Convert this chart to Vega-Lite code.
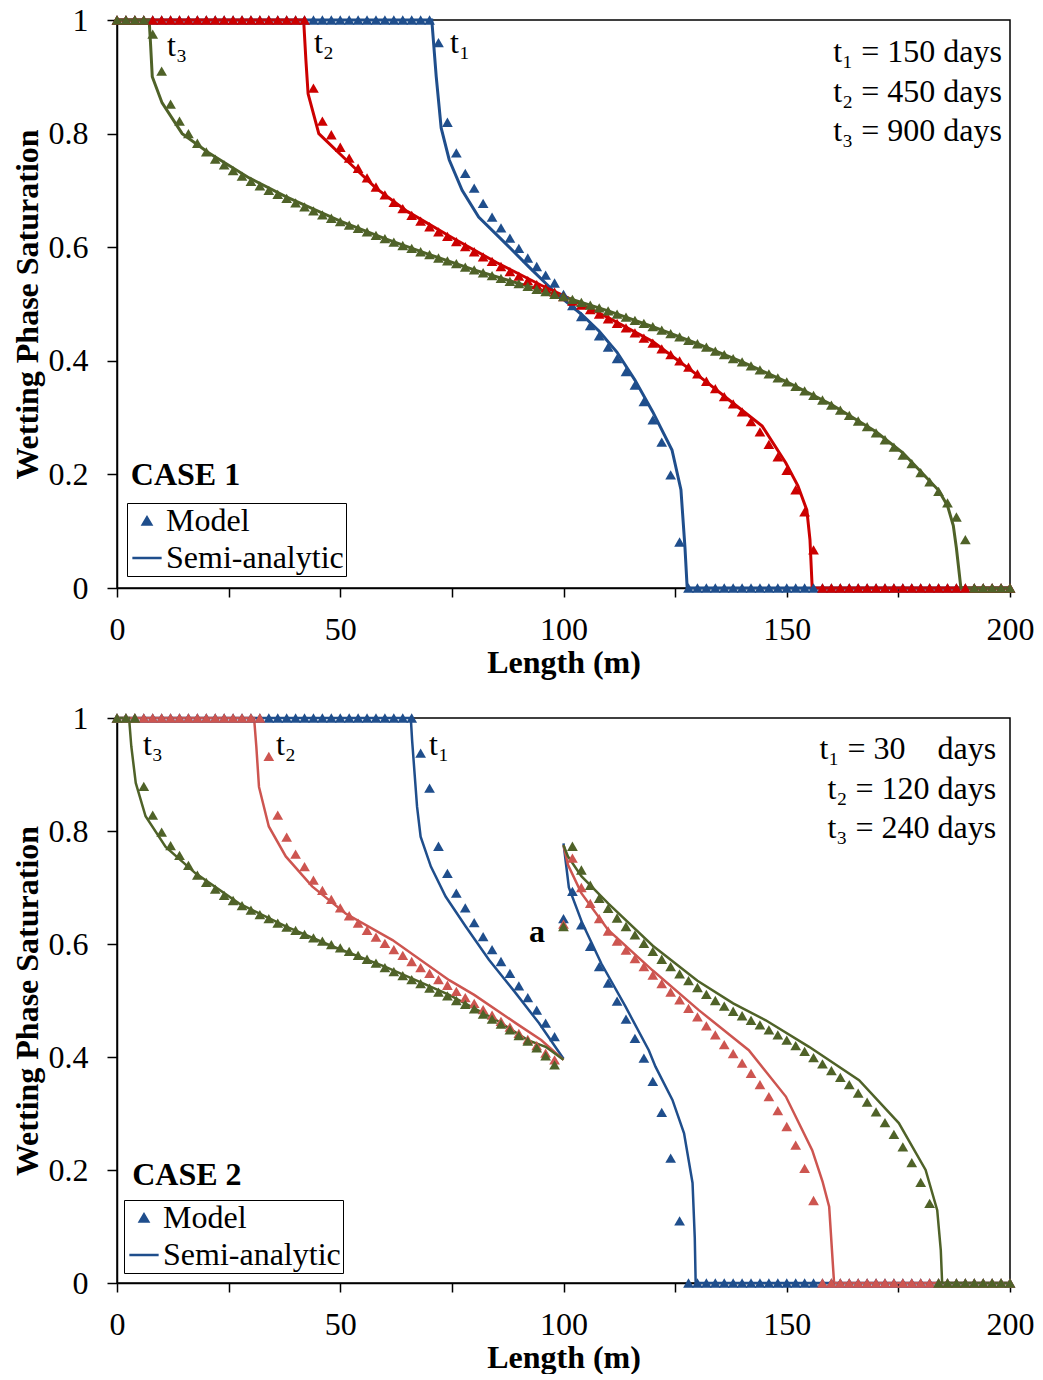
{
"$schema": "https://vega.github.io/schema/vega-lite/v6.json",
"background": "white",
"padding": {"left": 10, "top": 3, "right": 0, "bottom": 0},
"spacing": 22,
"datasets": {
"line1": [
{"t":"t1","x":0,"s":1},{"t":"t1","x":70.5,"s":1},{"t":"t1","x":71.5,"s":0.9},{"t":"t1","x":72.6,"s":0.81},{"t":"t1","x":74.4,"s":0.754},{"t":"t1","x":77.3,"s":0.7},{"t":"t1","x":81,"s":0.653},{"t":"t1","x":86.2,"s":0.613},{"t":"t1","x":92.3,"s":0.565},{"t":"t1","x":98.3,"s":0.519},{"t":"t1","x":104,"s":0.482},{"t":"t1","x":108,"s":0.452},{"t":"t1","x":112,"s":0.415},{"t":"t1","x":116,"s":0.366},{"t":"t1","x":120,"s":0.31},{"t":"t1","x":124.3,"s":0.243},{"t":"t1","x":126.3,"s":0.173},{"t":"t1","x":127.2,"s":0.072},{"t":"t1","x":127.7,"s":0},{"t":"t1","x":200,"s":0},
{"t":"t2","x":0,"s":1},{"t":"t2","x":41.8,"s":1},{"t":"t2","x":42.3,"s":0.93},{"t":"t2","x":42.8,"s":0.87},{"t":"t2","x":45.2,"s":0.8},{"t":"t2","x":51.3,"s":0.754},{"t":"t2","x":58,"s":0.704},{"t":"t2","x":65,"s":0.663},{"t":"t2","x":75,"s":0.617},{"t":"t2","x":85,"s":0.573},{"t":"t2","x":95,"s":0.533},{"t":"t2","x":100,"s":0.515},{"t":"t2","x":110,"s":0.476},{"t":"t2","x":120,"s":0.434},{"t":"t2","x":131.5,"s":0.366},{"t":"t2","x":140,"s":0.313},{"t":"t2","x":144.5,"s":0.285},{"t":"t2","x":149.8,"s":0.22},{"t":"t2","x":152.5,"s":0.18},{"t":"t2","x":154.5,"s":0.137},{"t":"t2","x":155.2,"s":0.085},{"t":"t2","x":155.7,"s":0},{"t":"t2","x":200,"s":0},
{"t":"t3","x":0,"s":1},{"t":"t3","x":7.2,"s":1},{"t":"t3","x":7.5,"s":0.96},{"t":"t3","x":7.9,"s":0.9},{"t":"t3","x":10.1,"s":0.854},{"t":"t3","x":14.6,"s":0.8},{"t":"t3","x":20.6,"s":0.766},{"t":"t3","x":29.6,"s":0.722},{"t":"t3","x":37.8,"s":0.689},{"t":"t3","x":50,"s":0.646},{"t":"t3","x":60,"s":0.615},{"t":"t3","x":70,"s":0.587},{"t":"t3","x":80,"s":0.56},{"t":"t3","x":90,"s":0.536},{"t":"t3","x":100,"s":0.513},{"t":"t3","x":110,"s":0.488},{"t":"t3","x":120,"s":0.46},{"t":"t3","x":130,"s":0.43},{"t":"t3","x":140,"s":0.398},{"t":"t3","x":150,"s":0.363},{"t":"t3","x":160,"s":0.323},{"t":"t3","x":170,"s":0.275},{"t":"t3","x":176,"s":0.238},{"t":"t3","x":180,"s":0.205},{"t":"t3","x":184,"s":0.172},{"t":"t3","x":186,"s":0.145},{"t":"t3","x":187.3,"s":0.11},{"t":"t3","x":188,"s":0.07},{"t":"t3","x":189,"s":0},{"t":"t3","x":200,"s":0}
],
"model1": [
{"t":"t1","x":0,"s":1},{"t":"t1","x":2,"s":1},{"t":"t1","x":4,"s":1},{"t":"t1","x":6,"s":1},{"t":"t1","x":8,"s":1},{"t":"t1","x":10,"s":1},{"t":"t1","x":12,"s":1},{"t":"t1","x":14,"s":1},{"t":"t1","x":16,"s":1},{"t":"t1","x":18,"s":1},{"t":"t1","x":20,"s":1},{"t":"t1","x":22,"s":1},{"t":"t1","x":24,"s":1},{"t":"t1","x":26,"s":1},{"t":"t1","x":28,"s":1},{"t":"t1","x":30,"s":1},{"t":"t1","x":32,"s":1},{"t":"t1","x":34,"s":1},{"t":"t1","x":36,"s":1},{"t":"t1","x":38,"s":1},{"t":"t1","x":40,"s":1},{"t":"t1","x":42,"s":1},{"t":"t1","x":44,"s":1},{"t":"t1","x":46,"s":1},{"t":"t1","x":48,"s":1},{"t":"t1","x":50,"s":1},{"t":"t1","x":52,"s":1},{"t":"t1","x":54,"s":1},{"t":"t1","x":56,"s":1},{"t":"t1","x":58,"s":1},{"t":"t1","x":60,"s":1},{"t":"t1","x":62,"s":1},{"t":"t1","x":64,"s":1},{"t":"t1","x":66,"s":1},{"t":"t1","x":68,"s":1},{"t":"t1","x":70,"s":1},
{"t":"t1","x":72,"s":0.96},{"t":"t1","x":74,"s":0.82},{"t":"t1","x":76,"s":0.766},{"t":"t1","x":78,"s":0.73},{"t":"t1","x":80,"s":0.704},{"t":"t1","x":82,"s":0.677},{"t":"t1","x":84,"s":0.653},{"t":"t1","x":86,"s":0.634},{"t":"t1","x":88,"s":0.616},{"t":"t1","x":90,"s":0.598},{"t":"t1","x":92,"s":0.581},{"t":"t1","x":94,"s":0.566},{"t":"t1","x":96,"s":0.551},{"t":"t1","x":98,"s":0.537},{"t":"t1","x":100,"s":0.517},{"t":"t1","x":102,"s":0.497},{"t":"t1","x":104,"s":0.478},{"t":"t1","x":106,"s":0.462},{"t":"t1","x":108,"s":0.444},{"t":"t1","x":110,"s":0.424},{"t":"t1","x":112,"s":0.404},{"t":"t1","x":114,"s":0.381},{"t":"t1","x":116,"s":0.357},{"t":"t1","x":118,"s":0.328},{"t":"t1","x":120,"s":0.296},{"t":"t1","x":122,"s":0.257},{"t":"t1","x":124,"s":0.199},{"t":"t1","x":126,"s":0.081},
{"t":"t1","x":128,"s":0},{"t":"t1","x":130,"s":0},{"t":"t1","x":132,"s":0},{"t":"t1","x":134,"s":0},{"t":"t1","x":136,"s":0},{"t":"t1","x":138,"s":0},{"t":"t1","x":140,"s":0},{"t":"t1","x":142,"s":0},{"t":"t1","x":144,"s":0},{"t":"t1","x":146,"s":0},{"t":"t1","x":148,"s":0},{"t":"t1","x":150,"s":0},{"t":"t1","x":152,"s":0},{"t":"t1","x":154,"s":0},{"t":"t1","x":156,"s":0},{"t":"t1","x":158,"s":0},{"t":"t1","x":160,"s":0},{"t":"t1","x":162,"s":0},{"t":"t1","x":164,"s":0},{"t":"t1","x":166,"s":0},{"t":"t1","x":168,"s":0},{"t":"t1","x":170,"s":0},{"t":"t1","x":172,"s":0},{"t":"t1","x":174,"s":0},{"t":"t1","x":176,"s":0},{"t":"t1","x":178,"s":0},{"t":"t1","x":180,"s":0},{"t":"t1","x":182,"s":0},{"t":"t1","x":184,"s":0},{"t":"t1","x":186,"s":0},{"t":"t1","x":188,"s":0},{"t":"t1","x":190,"s":0},{"t":"t1","x":192,"s":0},{"t":"t1","x":194,"s":0},{"t":"t1","x":196,"s":0},{"t":"t1","x":198,"s":0},{"t":"t1","x":200,"s":0},
{"t":"t2","x":0,"s":1},{"t":"t2","x":2,"s":1},{"t":"t2","x":4,"s":1},{"t":"t2","x":6,"s":1},{"t":"t2","x":8,"s":1},{"t":"t2","x":10,"s":1},{"t":"t2","x":12,"s":1},{"t":"t2","x":14,"s":1},{"t":"t2","x":16,"s":1},{"t":"t2","x":18,"s":1},{"t":"t2","x":20,"s":1},{"t":"t2","x":22,"s":1},{"t":"t2","x":24,"s":1},{"t":"t2","x":26,"s":1},{"t":"t2","x":28,"s":1},{"t":"t2","x":30,"s":1},{"t":"t2","x":32,"s":1},{"t":"t2","x":34,"s":1},{"t":"t2","x":36,"s":1},{"t":"t2","x":38,"s":1},{"t":"t2","x":40,"s":1},{"t":"t2","x":42,"s":1},
{"t":"t2","x":44,"s":0.88},{"t":"t2","x":46,"s":0.822},{"t":"t2","x":48,"s":0.798},{"t":"t2","x":50,"s":0.776},{"t":"t2","x":52,"s":0.757},{"t":"t2","x":54,"s":0.739},{"t":"t2","x":56,"s":0.722},{"t":"t2","x":58,"s":0.706},{"t":"t2","x":60,"s":0.692},{"t":"t2","x":62,"s":0.679},{"t":"t2","x":64,"s":0.668},{"t":"t2","x":66,"s":0.656},{"t":"t2","x":68,"s":0.646},{"t":"t2","x":70,"s":0.636},{"t":"t2","x":72,"s":0.627},{"t":"t2","x":74,"s":0.619},{"t":"t2","x":76,"s":0.61},{"t":"t2","x":78,"s":0.601},{"t":"t2","x":80,"s":0.592},{"t":"t2","x":82,"s":0.583},{"t":"t2","x":84,"s":0.575},{"t":"t2","x":86,"s":0.566},{"t":"t2","x":88,"s":0.557},{"t":"t2","x":90,"s":0.549},{"t":"t2","x":92,"s":0.541},{"t":"t2","x":94,"s":0.534},{"t":"t2","x":96,"s":0.528},{"t":"t2","x":98,"s":0.521},{"t":"t2","x":100,"s":0.513},{"t":"t2","x":102,"s":0.505},{"t":"t2","x":104,"s":0.498},{"t":"t2","x":106,"s":0.49},{"t":"t2","x":108,"s":0.482},{"t":"t2","x":110,"s":0.474},{"t":"t2","x":112,"s":0.466},{"t":"t2","x":114,"s":0.458},{"t":"t2","x":116,"s":0.449},{"t":"t2","x":118,"s":0.44},{"t":"t2","x":120,"s":0.431},{"t":"t2","x":122,"s":0.421},{"t":"t2","x":124,"s":0.411},{"t":"t2","x":126,"s":0.4},{"t":"t2","x":128,"s":0.389},{"t":"t2","x":130,"s":0.377},{"t":"t2","x":132,"s":0.364},{"t":"t2","x":134,"s":0.351},{"t":"t2","x":136,"s":0.337},{"t":"t2","x":138,"s":0.324},{"t":"t2","x":140,"s":0.31},{"t":"t2","x":142,"s":0.293},{"t":"t2","x":144,"s":0.275},{"t":"t2","x":146,"s":0.253},{"t":"t2","x":148,"s":0.231},{"t":"t2","x":150,"s":0.207},{"t":"t2","x":152,"s":0.173},{"t":"t2","x":154,"s":0.134},{"t":"t2","x":156,"s":0.067},
{"t":"t2","x":158,"s":0},{"t":"t2","x":160,"s":0},{"t":"t2","x":162,"s":0},{"t":"t2","x":164,"s":0},{"t":"t2","x":166,"s":0},{"t":"t2","x":168,"s":0},{"t":"t2","x":170,"s":0},{"t":"t2","x":172,"s":0},{"t":"t2","x":174,"s":0},{"t":"t2","x":176,"s":0},{"t":"t2","x":178,"s":0},{"t":"t2","x":180,"s":0},{"t":"t2","x":182,"s":0},{"t":"t2","x":184,"s":0},{"t":"t2","x":186,"s":0},{"t":"t2","x":188,"s":0},{"t":"t2","x":190,"s":0},{"t":"t2","x":192,"s":0},{"t":"t2","x":194,"s":0},{"t":"t2","x":196,"s":0},{"t":"t2","x":198,"s":0},{"t":"t2","x":200,"s":0},
{"t":"t3","x":0,"s":1},{"t":"t3","x":2,"s":1},{"t":"t3","x":4,"s":1},{"t":"t3","x":6,"s":1},
{"t":"t3","x":8,"s":0.975},{"t":"t3","x":10,"s":0.91},{"t":"t3","x":12,"s":0.852},{"t":"t3","x":14,"s":0.822},{"t":"t3","x":16,"s":0.8},{"t":"t3","x":18,"s":0.783},{"t":"t3","x":20,"s":0.768},{"t":"t3","x":22,"s":0.755},{"t":"t3","x":24,"s":0.745},{"t":"t3","x":26,"s":0.735},{"t":"t3","x":28,"s":0.725},{"t":"t3","x":30,"s":0.716},{"t":"t3","x":32,"s":0.708},{"t":"t3","x":34,"s":0.7},{"t":"t3","x":36,"s":0.693},{"t":"t3","x":38,"s":0.686},{"t":"t3","x":40,"s":0.678},{"t":"t3","x":42,"s":0.671},{"t":"t3","x":44,"s":0.664},{"t":"t3","x":46,"s":0.657},{"t":"t3","x":48,"s":0.651},{"t":"t3","x":50,"s":0.645},{"t":"t3","x":52,"s":0.639},{"t":"t3","x":54,"s":0.633},{"t":"t3","x":56,"s":0.627},{"t":"t3","x":58,"s":0.621},{"t":"t3","x":60,"s":0.615},{"t":"t3","x":62,"s":0.609},{"t":"t3","x":64,"s":0.603},{"t":"t3","x":66,"s":0.598},{"t":"t3","x":68,"s":0.592},{"t":"t3","x":70,"s":0.587},{"t":"t3","x":72,"s":0.581},{"t":"t3","x":74,"s":0.576},{"t":"t3","x":76,"s":0.571},{"t":"t3","x":78,"s":0.565},{"t":"t3","x":80,"s":0.56},{"t":"t3","x":82,"s":0.555},{"t":"t3","x":84,"s":0.55},{"t":"t3","x":86,"s":0.545},{"t":"t3","x":88,"s":0.54},{"t":"t3","x":90,"s":0.536},{"t":"t3","x":92,"s":0.531},{"t":"t3","x":94,"s":0.526},{"t":"t3","x":96,"s":0.522},{"t":"t3","x":98,"s":0.517},{"t":"t3","x":100,"s":0.513},{"t":"t3","x":102,"s":0.508},{"t":"t3","x":104,"s":0.503},{"t":"t3","x":106,"s":0.498},{"t":"t3","x":108,"s":0.493},{"t":"t3","x":110,"s":0.488},{"t":"t3","x":112,"s":0.482},{"t":"t3","x":114,"s":0.477},{"t":"t3","x":116,"s":0.471},{"t":"t3","x":118,"s":0.466},{"t":"t3","x":120,"s":0.46},{"t":"t3","x":122,"s":0.454},{"t":"t3","x":124,"s":0.448},{"t":"t3","x":126,"s":0.442},{"t":"t3","x":128,"s":0.436},{"t":"t3","x":130,"s":0.43},{"t":"t3","x":132,"s":0.424},{"t":"t3","x":134,"s":0.417},{"t":"t3","x":136,"s":0.411},{"t":"t3","x":138,"s":0.404},{"t":"t3","x":140,"s":0.398},{"t":"t3","x":142,"s":0.391},{"t":"t3","x":144,"s":0.384},{"t":"t3","x":146,"s":0.377},{"t":"t3","x":148,"s":0.37},{"t":"t3","x":150,"s":0.363},{"t":"t3","x":152,"s":0.355},{"t":"t3","x":154,"s":0.347},{"t":"t3","x":156,"s":0.339},{"t":"t3","x":158,"s":0.331},{"t":"t3","x":160,"s":0.322},{"t":"t3","x":162,"s":0.313},{"t":"t3","x":164,"s":0.304},{"t":"t3","x":166,"s":0.294},{"t":"t3","x":168,"s":0.284},{"t":"t3","x":170,"s":0.273},{"t":"t3","x":172,"s":0.261},{"t":"t3","x":174,"s":0.248},{"t":"t3","x":176,"s":0.234},{"t":"t3","x":178,"s":0.219},{"t":"t3","x":180,"s":0.203},{"t":"t3","x":182,"s":0.187},{"t":"t3","x":184,"s":0.17},{"t":"t3","x":186,"s":0.15},{"t":"t3","x":188,"s":0.125},{"t":"t3","x":190,"s":0.085},
{"t":"t3","x":192,"s":0},{"t":"t3","x":194,"s":0},{"t":"t3","x":196,"s":0},{"t":"t3","x":198,"s":0},{"t":"t3","x":200,"s":0}
],
"line2": [
{"t":"t1","p":"L","x":0,"s":1},{"t":"t1","p":"L","x":65.8,"s":1},{"t":"t1","p":"L","x":66.1,"s":0.96},{"t":"t1","p":"L","x":67.2,"s":0.843},{"t":"t1","p":"L","x":68,"s":0.79},{"t":"t1","p":"L","x":70.3,"s":0.737},{"t":"t1","p":"L","x":73.6,"s":0.684},{"t":"t1","p":"L","x":78.1,"s":0.631},{"t":"t1","p":"L","x":83.3,"s":0.572},{"t":"t1","p":"L","x":89.3,"s":0.513},{"t":"t1","p":"L","x":94.5,"s":0.46},{"t":"t1","p":"L","x":100,"s":0.397},
{"t":"t1","p":"R","x":100,"s":0.778},{"t":"t1","p":"R","x":101.2,"s":0.7},{"t":"t1","p":"R","x":104.2,"s":0.637},{"t":"t1","p":"R","x":108.5,"s":0.565},{"t":"t1","p":"R","x":113.9,"s":0.489},{"t":"t1","p":"R","x":119.1,"s":0.412},{"t":"t1","p":"R","x":120.6,"s":0.383},{"t":"t1","p":"R","x":124.4,"s":0.324},{"t":"t1","p":"R","x":127,"s":0.265},{"t":"t1","p":"R","x":128.9,"s":0.177},{"t":"t1","p":"R","x":129.4,"s":0.08},{"t":"t1","p":"R","x":129.6,"s":0},{"t":"t1","p":"R","x":200,"s":0},
{"t":"t2","p":"L","x":0,"s":1},{"t":"t2","p":"L","x":30.7,"s":1},{"t":"t2","p":"L","x":31.2,"s":0.95},{"t":"t2","p":"L","x":31.8,"s":0.878},{"t":"t2","p":"L","x":34,"s":0.808},{"t":"t2","p":"L","x":37.8,"s":0.755},{"t":"t2","p":"L","x":43.7,"s":0.702},{"t":"t2","p":"L","x":51.2,"s":0.654},{"t":"t2","p":"L","x":61.7,"s":0.607},{"t":"t2","p":"L","x":74.4,"s":0.536},{"t":"t2","p":"L","x":80,"s":0.51},{"t":"t2","p":"L","x":89.3,"s":0.46},{"t":"t2","p":"L","x":95,"s":0.43},{"t":"t2","p":"L","x":100,"s":0.395},
{"t":"t2","p":"R","x":100,"s":0.775},{"t":"t2","p":"R","x":101,"s":0.74},{"t":"t2","p":"R","x":104,"s":0.69},{"t":"t2","p":"R","x":110,"s":0.625},{"t":"t2","p":"R","x":120,"s":0.553},{"t":"t2","p":"R","x":130.3,"s":0.483},{"t":"t2","p":"R","x":141.5,"s":0.412},{"t":"t2","p":"R","x":149.8,"s":0.33},{"t":"t2","p":"R","x":155.7,"s":0.235},{"t":"t2","p":"R","x":158,"s":0.18},{"t":"t2","p":"R","x":159.5,"s":0.135},{"t":"t2","p":"R","x":160.6,"s":0},{"t":"t2","p":"R","x":200,"s":0},
{"t":"t3","p":"L","x":0,"s":1},{"t":"t3","p":"L","x":2.7,"s":1},{"t":"t3","p":"L","x":3.2,"s":0.95},{"t":"t3","p":"L","x":4.2,"s":0.885},{"t":"t3","p":"L","x":6.4,"s":0.826},{"t":"t3","p":"L","x":10.9,"s":0.772},{"t":"t3","p":"L","x":17.6,"s":0.725},{"t":"t3","p":"L","x":27.3,"s":0.672},{"t":"t3","p":"L","x":37.8,"s":0.631},{"t":"t3","p":"L","x":48.2,"s":0.596},{"t":"t3","p":"L","x":60,"s":0.56},{"t":"t3","p":"L","x":74.4,"s":0.51},{"t":"t3","p":"L","x":85,"s":0.465},{"t":"t3","p":"L","x":92,"s":0.43},{"t":"t3","p":"L","x":96,"s":0.418},{"t":"t3","p":"L","x":100,"s":0.395},
{"t":"t3","p":"R","x":100,"s":0.775},{"t":"t3","p":"R","x":101,"s":0.755},{"t":"t3","p":"R","x":104,"s":0.72},{"t":"t3","p":"R","x":110,"s":0.672},{"t":"t3","p":"R","x":120,"s":0.597},{"t":"t3","p":"R","x":130,"s":0.535},{"t":"t3","p":"R","x":138,"s":0.495},{"t":"t3","p":"R","x":145.3,"s":0.465},{"t":"t3","p":"R","x":155,"s":0.418},{"t":"t3","p":"R","x":166.2,"s":0.359},{"t":"t3","p":"R","x":175.1,"s":0.283},{"t":"t3","p":"R","x":181.1,"s":0.2},{"t":"t3","p":"R","x":183.7,"s":0.129},{"t":"t3","p":"R","x":184.5,"s":0.058},{"t":"t3","p":"R","x":184.8,"s":0},{"t":"t3","p":"R","x":200,"s":0}
],
"model2": [
{"t":"t1","x":0,"s":1},{"t":"t1","x":2,"s":1},{"t":"t1","x":4,"s":1},{"t":"t1","x":6,"s":1},{"t":"t1","x":8,"s":1},{"t":"t1","x":10,"s":1},{"t":"t1","x":12,"s":1},{"t":"t1","x":14,"s":1},{"t":"t1","x":16,"s":1},{"t":"t1","x":18,"s":1},{"t":"t1","x":20,"s":1},{"t":"t1","x":22,"s":1},{"t":"t1","x":24,"s":1},{"t":"t1","x":26,"s":1},{"t":"t1","x":28,"s":1},{"t":"t1","x":30,"s":1},{"t":"t1","x":32,"s":1},{"t":"t1","x":34,"s":1},{"t":"t1","x":36,"s":1},{"t":"t1","x":38,"s":1},{"t":"t1","x":40,"s":1},{"t":"t1","x":42,"s":1},{"t":"t1","x":44,"s":1},{"t":"t1","x":46,"s":1},{"t":"t1","x":48,"s":1},{"t":"t1","x":50,"s":1},{"t":"t1","x":52,"s":1},{"t":"t1","x":54,"s":1},{"t":"t1","x":56,"s":1},{"t":"t1","x":58,"s":1},{"t":"t1","x":60,"s":1},{"t":"t1","x":62,"s":1},{"t":"t1","x":64,"s":1},{"t":"t1","x":66,"s":1},
{"t":"t1","x":68,"s":0.938},{"t":"t1","x":70,"s":0.876},{"t":"t1","x":72,"s":0.773},{"t":"t1","x":74,"s":0.725},{"t":"t1","x":76,"s":0.69},{"t":"t1","x":78,"s":0.664},{"t":"t1","x":80,"s":0.638},{"t":"t1","x":82,"s":0.613},{"t":"t1","x":84,"s":0.59},{"t":"t1","x":86,"s":0.569},{"t":"t1","x":88,"s":0.548},{"t":"t1","x":90,"s":0.526},{"t":"t1","x":92,"s":0.505},{"t":"t1","x":94,"s":0.483},{"t":"t1","x":96,"s":0.46},{"t":"t1","x":98,"s":0.436},{"t":"t1","x":100,"s":0.645},{"t":"t1","x":102,"s":0.693},{"t":"t1","x":104,"s":0.634},{"t":"t1","x":106,"s":0.596},{"t":"t1","x":108,"s":0.56},{"t":"t1","x":110,"s":0.531},{"t":"t1","x":112,"s":0.499},{"t":"t1","x":114,"s":0.467},{"t":"t1","x":116,"s":0.433},{"t":"t1","x":118,"s":0.398},{"t":"t1","x":120,"s":0.357},{"t":"t1","x":122,"s":0.302},{"t":"t1","x":124,"s":0.221},{"t":"t1","x":126,"s":0.11},
{"t":"t1","x":128,"s":0},{"t":"t1","x":130,"s":0},{"t":"t1","x":132,"s":0},{"t":"t1","x":134,"s":0},{"t":"t1","x":136,"s":0},{"t":"t1","x":138,"s":0},{"t":"t1","x":140,"s":0},{"t":"t1","x":142,"s":0},{"t":"t1","x":144,"s":0},{"t":"t1","x":146,"s":0},{"t":"t1","x":148,"s":0},{"t":"t1","x":150,"s":0},{"t":"t1","x":152,"s":0},{"t":"t1","x":154,"s":0},{"t":"t1","x":156,"s":0},{"t":"t1","x":158,"s":0},{"t":"t1","x":160,"s":0},{"t":"t1","x":162,"s":0},{"t":"t1","x":164,"s":0},{"t":"t1","x":166,"s":0},{"t":"t1","x":168,"s":0},{"t":"t1","x":170,"s":0},{"t":"t1","x":172,"s":0},{"t":"t1","x":174,"s":0},{"t":"t1","x":176,"s":0},{"t":"t1","x":178,"s":0},{"t":"t1","x":180,"s":0},{"t":"t1","x":182,"s":0},{"t":"t1","x":184,"s":0},{"t":"t1","x":186,"s":0},{"t":"t1","x":188,"s":0},{"t":"t1","x":190,"s":0},{"t":"t1","x":192,"s":0},{"t":"t1","x":194,"s":0},{"t":"t1","x":196,"s":0},{"t":"t1","x":198,"s":0},{"t":"t1","x":200,"s":0},
{"t":"t2","x":0,"s":1},{"t":"t2","x":2,"s":1},{"t":"t2","x":4,"s":1},{"t":"t2","x":6,"s":1},{"t":"t2","x":8,"s":1},{"t":"t2","x":10,"s":1},{"t":"t2","x":12,"s":1},{"t":"t2","x":14,"s":1},{"t":"t2","x":16,"s":1},{"t":"t2","x":18,"s":1},{"t":"t2","x":20,"s":1},{"t":"t2","x":22,"s":1},{"t":"t2","x":24,"s":1},{"t":"t2","x":26,"s":1},{"t":"t2","x":28,"s":1},{"t":"t2","x":30,"s":1},{"t":"t2","x":32,"s":1},
{"t":"t2","x":34,"s":0.932},{"t":"t2","x":36,"s":0.828},{"t":"t2","x":38,"s":0.789},{"t":"t2","x":40,"s":0.759},{"t":"t2","x":42,"s":0.737},{"t":"t2","x":44,"s":0.713},{"t":"t2","x":46,"s":0.695},{"t":"t2","x":48,"s":0.679},{"t":"t2","x":50,"s":0.664},{"t":"t2","x":52,"s":0.65},{"t":"t2","x":54,"s":0.637},{"t":"t2","x":56,"s":0.624},{"t":"t2","x":58,"s":0.612},{"t":"t2","x":60,"s":0.601},{"t":"t2","x":62,"s":0.59},{"t":"t2","x":64,"s":0.58},{"t":"t2","x":66,"s":0.569},{"t":"t2","x":68,"s":0.558},{"t":"t2","x":70,"s":0.548},{"t":"t2","x":72,"s":0.537},{"t":"t2","x":74,"s":0.527},{"t":"t2","x":76,"s":0.516},{"t":"t2","x":78,"s":0.505},{"t":"t2","x":80,"s":0.495},{"t":"t2","x":82,"s":0.484},{"t":"t2","x":84,"s":0.474},{"t":"t2","x":86,"s":0.463},{"t":"t2","x":88,"s":0.453},{"t":"t2","x":90,"s":0.442},{"t":"t2","x":92,"s":0.431},{"t":"t2","x":94,"s":0.42},{"t":"t2","x":96,"s":0.407},{"t":"t2","x":98,"s":0.395},{"t":"t2","x":100,"s":0.635},{"t":"t2","x":102,"s":0.752},{"t":"t2","x":104,"s":0.7},{"t":"t2","x":106,"s":0.672},{"t":"t2","x":108,"s":0.645},{"t":"t2","x":110,"s":0.623},{"t":"t2","x":112,"s":0.605},{"t":"t2","x":114,"s":0.589},{"t":"t2","x":116,"s":0.574},{"t":"t2","x":118,"s":0.56},{"t":"t2","x":120,"s":0.545},{"t":"t2","x":122,"s":0.53},{"t":"t2","x":124,"s":0.515},{"t":"t2","x":126,"s":0.501},{"t":"t2","x":128,"s":0.486},{"t":"t2","x":130,"s":0.471},{"t":"t2","x":132,"s":0.455},{"t":"t2","x":134,"s":0.439},{"t":"t2","x":136,"s":0.422},{"t":"t2","x":138,"s":0.406},{"t":"t2","x":140,"s":0.389},{"t":"t2","x":142,"s":0.371},{"t":"t2","x":144,"s":0.351},{"t":"t2","x":146,"s":0.33},{"t":"t2","x":148,"s":0.305},{"t":"t2","x":150,"s":0.277},{"t":"t2","x":152,"s":0.244},{"t":"t2","x":154,"s":0.203},{"t":"t2","x":156,"s":0.146},
{"t":"t2","x":158,"s":0},{"t":"t2","x":160,"s":0},{"t":"t2","x":162,"s":0},{"t":"t2","x":164,"s":0},{"t":"t2","x":166,"s":0},{"t":"t2","x":168,"s":0},{"t":"t2","x":170,"s":0},{"t":"t2","x":172,"s":0},{"t":"t2","x":174,"s":0},{"t":"t2","x":176,"s":0},{"t":"t2","x":178,"s":0},{"t":"t2","x":180,"s":0},{"t":"t2","x":182,"s":0},{"t":"t2","x":184,"s":0},{"t":"t2","x":186,"s":0},{"t":"t2","x":188,"s":0},{"t":"t2","x":190,"s":0},{"t":"t2","x":192,"s":0},{"t":"t2","x":194,"s":0},{"t":"t2","x":196,"s":0},{"t":"t2","x":198,"s":0},{"t":"t2","x":200,"s":0},
{"t":"t3","x":0,"s":1},{"t":"t3","x":2,"s":1},{"t":"t3","x":4,"s":1},
{"t":"t3","x":6,"s":0.879},{"t":"t3","x":8,"s":0.828},{"t":"t3","x":10,"s":0.798},{"t":"t3","x":12,"s":0.774},{"t":"t3","x":14,"s":0.757},{"t":"t3","x":16,"s":0.739},{"t":"t3","x":18,"s":0.722},{"t":"t3","x":20,"s":0.709},{"t":"t3","x":22,"s":0.697},{"t":"t3","x":24,"s":0.686},{"t":"t3","x":26,"s":0.677},{"t":"t3","x":28,"s":0.668},{"t":"t3","x":30,"s":0.66},{"t":"t3","x":32,"s":0.652},{"t":"t3","x":34,"s":0.645},{"t":"t3","x":36,"s":0.637},{"t":"t3","x":38,"s":0.63},{"t":"t3","x":40,"s":0.624},{"t":"t3","x":42,"s":0.617},{"t":"t3","x":44,"s":0.611},{"t":"t3","x":46,"s":0.605},{"t":"t3","x":48,"s":0.599},{"t":"t3","x":50,"s":0.593},{"t":"t3","x":52,"s":0.587},{"t":"t3","x":54,"s":0.58},{"t":"t3","x":56,"s":0.573},{"t":"t3","x":58,"s":0.566},{"t":"t3","x":60,"s":0.558},{"t":"t3","x":62,"s":0.551},{"t":"t3","x":64,"s":0.544},{"t":"t3","x":66,"s":0.537},{"t":"t3","x":68,"s":0.53},{"t":"t3","x":70,"s":0.522},{"t":"t3","x":72,"s":0.515},{"t":"t3","x":74,"s":0.508},{"t":"t3","x":76,"s":0.5},{"t":"t3","x":78,"s":0.493},{"t":"t3","x":80,"s":0.485},{"t":"t3","x":82,"s":0.476},{"t":"t3","x":84,"s":0.467},{"t":"t3","x":86,"s":0.458},{"t":"t3","x":88,"s":0.448},{"t":"t3","x":90,"s":0.438},{"t":"t3","x":92,"s":0.428},{"t":"t3","x":94,"s":0.416},{"t":"t3","x":96,"s":0.402},{"t":"t3","x":98,"s":0.386},{"t":"t3","x":100,"s":0.631},{"t":"t3","x":102,"s":0.773},{"t":"t3","x":104,"s":0.731},{"t":"t3","x":106,"s":0.704},{"t":"t3","x":108,"s":0.681},{"t":"t3","x":110,"s":0.663},{"t":"t3","x":112,"s":0.646},{"t":"t3","x":114,"s":0.631},{"t":"t3","x":116,"s":0.616},{"t":"t3","x":118,"s":0.601},{"t":"t3","x":120,"s":0.587},{"t":"t3","x":122,"s":0.573},{"t":"t3","x":124,"s":0.56},{"t":"t3","x":126,"s":0.547},{"t":"t3","x":128,"s":0.535},{"t":"t3","x":130,"s":0.523},{"t":"t3","x":132,"s":0.511},{"t":"t3","x":134,"s":0.5},{"t":"t3","x":136,"s":0.49},{"t":"t3","x":138,"s":0.481},{"t":"t3","x":140,"s":0.473},{"t":"t3","x":142,"s":0.465},{"t":"t3","x":144,"s":0.457},{"t":"t3","x":146,"s":0.448},{"t":"t3","x":148,"s":0.439},{"t":"t3","x":150,"s":0.43},{"t":"t3","x":152,"s":0.42},{"t":"t3","x":154,"s":0.41},{"t":"t3","x":156,"s":0.399},{"t":"t3","x":158,"s":0.388},{"t":"t3","x":160,"s":0.376},{"t":"t3","x":162,"s":0.364},{"t":"t3","x":164,"s":0.351},{"t":"t3","x":166,"s":0.336},{"t":"t3","x":168,"s":0.32},{"t":"t3","x":170,"s":0.303},{"t":"t3","x":172,"s":0.284},{"t":"t3","x":174,"s":0.263},{"t":"t3","x":176,"s":0.241},{"t":"t3","x":178,"s":0.213},{"t":"t3","x":180,"s":0.178},{"t":"t3","x":182,"s":0.141},
{"t":"t3","x":184,"s":0},{"t":"t3","x":186,"s":0},{"t":"t3","x":188,"s":0},{"t":"t3","x":190,"s":0},{"t":"t3","x":192,"s":0},{"t":"t3","x":194,"s":0},{"t":"t3","x":196,"s":0},{"t":"t3","x":198,"s":0},{"t":"t3","x":200,"s":0}
]
},
"vconcat": [
{
"width": 893, "height": 568,
"layer": [
 {"data": {"name": "line1"}, "mark": {"type": "line", "strokeWidth": 3}, "encoding": {
   "x": {"field": "x", "type": "quantitative", "scale": {"domain": [0, 200], "nice": false, "zero": false}, "axis": {"values": [0,25,50,75,100,125,150,175,200], "labelExpr": "datum.value % 50 === 0 ? datum.label : ''", "title": "Length (m)"}},
   "y": {"field": "s", "type": "quantitative", "scale": {"domain": [0, 1], "nice": false}, "axis": {"values": [0,0.2,0.4,0.6,0.8,1], "format": "~g", "title": "Wetting Phase Saturation"}},
   "color": {"field": "t", "type": "nominal", "scale": {"domain": ["t1","t2","t3"], "range": ["#1F4E8C","#CC0000","#4F6228"]}, "legend": null}}},
 {"data": {"name": "model1"}, "mark": {"type": "point", "filled": true, "size": 115, "opacity": 1}, "encoding": {
   "x": {"field": "x", "type": "quantitative", "title": "Length (m)"},
   "y": {"field": "s", "type": "quantitative", "title": "Wetting Phase Saturation"},
   "color": {"field": "t", "type": "nominal", "scale": {"domain": ["t1","t2","t3"], "range": ["#1F4E8C","#CC0000","#4F6228"]}, "legend": null},
   "shape": {"datum": "Model", "type": "nominal", "scale": {"domain": ["Model","Semi-analytic"], "range": ["triangle-up","M-3.5,0L3.5,0"]}, "legend": {"title": null, "orient": "none", "legendX": 10, "legendY": 483}}
 }},
 {"data": {"values": [{"label": "t₃"}]}, "mark": {"type": "text", "font": "Liberation Serif", "fontSize": 32, "align": "left", "baseline": "alphabetic", "color": "black"}, "encoding": {"x": {"datum": 11.2, "type": "quantitative", "title": "Length (m)"}, "y": {"datum": 0.937, "type": "quantitative", "title": "Wetting Phase Saturation"}, "text": {"field": "label", "type": "nominal"}}},
 {"data": {"values": [{"label": "t₂"}]}, "mark": {"type": "text", "font": "Liberation Serif", "fontSize": 32, "align": "left", "baseline": "alphabetic", "color": "black"}, "encoding": {"x": {"datum": 44.1, "type": "quantitative", "title": "Length (m)"}, "y": {"datum": 0.942, "type": "quantitative", "title": "Wetting Phase Saturation"}, "text": {"field": "label", "type": "nominal"}}},
 {"data": {"values": [{"label": "t₁"}]}, "mark": {"type": "text", "font": "Liberation Serif", "fontSize": 32, "align": "left", "baseline": "alphabetic", "color": "black"}, "encoding": {"x": {"datum": 74.6, "type": "quantitative", "title": "Length (m)"}, "y": {"datum": 0.942, "type": "quantitative", "title": "Wetting Phase Saturation"}, "text": {"field": "label", "type": "nominal"}}},
 {"data": {"values": [{"label": ["t₁ = 150 days", "t₂ = 450 days", "t₃ = 900 days"]}]}, "mark": {"type": "text", "font": "Liberation Serif", "fontSize": 32, "align": "right", "baseline": "alphabetic", "color": "black", "lineHeight": 39.5}, "encoding": {"x": {"datum": 198.2, "type": "quantitative", "title": "Length (m)"}, "y": {"datum": 0.926, "type": "quantitative", "title": "Wetting Phase Saturation"}, "text": {"field": "label", "type": "nominal"}}},
 {"data": {"values": [{"label": "CASE 1"}]}, "mark": {"type": "text", "font": "Liberation Serif", "fontSize": 32, "fontWeight": "bold", "align": "left", "baseline": "alphabetic", "color": "black"}, "encoding": {"x": {"datum": 3.1, "type": "quantitative", "title": "Length (m)"}, "y": {"datum": 0.181, "type": "quantitative", "title": "Wetting Phase Saturation"}, "text": {"field": "label", "type": "nominal"}}}
]
},
{
"width": 893, "height": 565,
"layer": [
 {"data": {"name": "line2"}, "mark": {"type": "line", "strokeWidth": 2.5}, "encoding": {
   "x": {"field": "x", "type": "quantitative", "scale": {"domain": [0, 200], "nice": false, "zero": false}, "axis": {"values": [0,25,50,75,100,125,150,175,200], "labelExpr": "datum.value % 50 === 0 ? datum.label : ''", "title": "Length (m)"}},
   "y": {"field": "s", "type": "quantitative", "scale": {"domain": [0, 1], "nice": false}, "axis": {"values": [0,0.2,0.4,0.6,0.8,1], "format": "~g", "title": "Wetting Phase Saturation"}},
   "color": {"field": "t", "type": "nominal", "scale": {"domain": ["t1","t2","t3"], "range": ["#1F4E8C","#CD5550","#4F6228"]}, "legend": null},
   "detail": {"field": "p"}}},
 {"data": {"name": "model2"}, "mark": {"type": "point", "filled": true, "size": 115, "opacity": 1}, "encoding": {
   "x": {"field": "x", "type": "quantitative", "title": "Length (m)"},
   "y": {"field": "s", "type": "quantitative", "title": "Wetting Phase Saturation"},
   "color": {"field": "t", "type": "nominal", "scale": {"domain": ["t1","t2","t3"], "range": ["#1F4E8C","#CD5550","#4F6228"]}, "legend": null},
   "shape": {"datum": "Model", "type": "nominal", "scale": {"domain": ["Model","Semi-analytic"], "range": ["triangle-up","M-3.5,0L3.5,0"]}, "legend": {"title": null, "orient": "none", "legendX": 7, "legendY": 482}}
 }},
 {"data": {"values": [{"label": "t₃"}]}, "mark": {"type": "text", "font": "Liberation Serif", "fontSize": 32, "align": "left", "baseline": "alphabetic", "color": "black"}, "encoding": {"x": {"datum": 5.8, "type": "quantitative", "title": "Length (m)"}, "y": {"datum": 0.935, "type": "quantitative", "title": "Wetting Phase Saturation"}, "text": {"field": "label", "type": "nominal"}}},
 {"data": {"values": [{"label": "t₂"}]}, "mark": {"type": "text", "font": "Liberation Serif", "fontSize": 32, "align": "left", "baseline": "alphabetic", "color": "black"}, "encoding": {"x": {"datum": 35.6, "type": "quantitative", "title": "Length (m)"}, "y": {"datum": 0.935, "type": "quantitative", "title": "Wetting Phase Saturation"}, "text": {"field": "label", "type": "nominal"}}},
 {"data": {"values": [{"label": "t₁"}]}, "mark": {"type": "text", "font": "Liberation Serif", "fontSize": 32, "align": "left", "baseline": "alphabetic", "color": "black"}, "encoding": {"x": {"datum": 69.9, "type": "quantitative", "title": "Length (m)"}, "y": {"datum": 0.935, "type": "quantitative", "title": "Wetting Phase Saturation"}, "text": {"field": "label", "type": "nominal"}}},
 {"data": {"values": [{"label": ["t₁ = 30\u00a0\u00a0\u00a0 days", "t₂ = 120 days", "t₃ = 240 days"]}]}, "mark": {"type": "text", "font": "Liberation Serif", "fontSize": 32, "align": "right", "baseline": "alphabetic", "color": "black", "lineHeight": 39.5}, "encoding": {"x": {"datum": 196.9, "type": "quantitative", "title": "Length (m)"}, "y": {"datum": 0.927, "type": "quantitative", "title": "Wetting Phase Saturation"}, "text": {"field": "label", "type": "nominal"}}},
 {"data": {"values": [{"label": "CASE 2"}]}, "mark": {"type": "text", "font": "Liberation Serif", "fontSize": 32, "fontWeight": "bold", "align": "left", "baseline": "alphabetic", "color": "black"}, "encoding": {"x": {"datum": 3.4, "type": "quantitative", "title": "Length (m)"}, "y": {"datum": 0.173, "type": "quantitative", "title": "Wetting Phase Saturation"}, "text": {"field": "label", "type": "nominal"}}},
 {"data": {"values": [{"label": "a"}]}, "mark": {"type": "text", "font": "Liberation Serif", "fontSize": 32, "fontWeight": "bold", "align": "left", "baseline": "alphabetic", "color": "black"}, "encoding": {"x": {"datum": 92.3, "type": "quantitative", "title": "Length (m)"}, "y": {"datum": 0.604, "type": "quantitative", "title": "Wetting Phase Saturation"}, "text": {"field": "label", "type": "nominal"}}}
]
}
],
"resolve": {"scale": {"color": "independent", "shape": "independent"}, "legend": {"shape": "independent"}},
"config": {
 "font": "Liberation Serif",
 "view": {"stroke": "black", "strokeWidth": 1.5},
 "axis": {"grid": false, "domainColor": "black", "domainWidth": 1.5, "tickColor": "black", "tickWidth": 1.5, "labelFont": "Liberation Serif", "labelFontSize": 32, "labelColor": "black", "titleFont": "Liberation Serif", "titleFontSize": 32, "titleFontWeight": "bold", "titleColor": "black", "labelOverlap": false, "labelBound": false, "labelFlush": false},
 "axisX": {"tickSize": 9, "labelPadding": 17, "titlePadding": 2},
 "axisY": {"tickSize": 10, "labelPadding": 19, "titlePadding": 4},
 "legend": {"labelFont": "Liberation Serif", "labelFontSize": 32, "labelColor": "black", "labelLimit": 400, "strokeColor": "black", "strokeWidth": 1, "fillColor": "white", "padding": 2, "rowPadding": 5, "symbolSize": 70, "symbolOffset": 2, "labelOffset": 3, "symbolFillColor": "#1F4E8C", "symbolStrokeColor": "#1F4E8C", "symbolStrokeWidth": 2.5, "symbolBaseFillColor": "#1F4E8C", "symbolBaseStrokeColor": "#1F4E8C"}
}
}
